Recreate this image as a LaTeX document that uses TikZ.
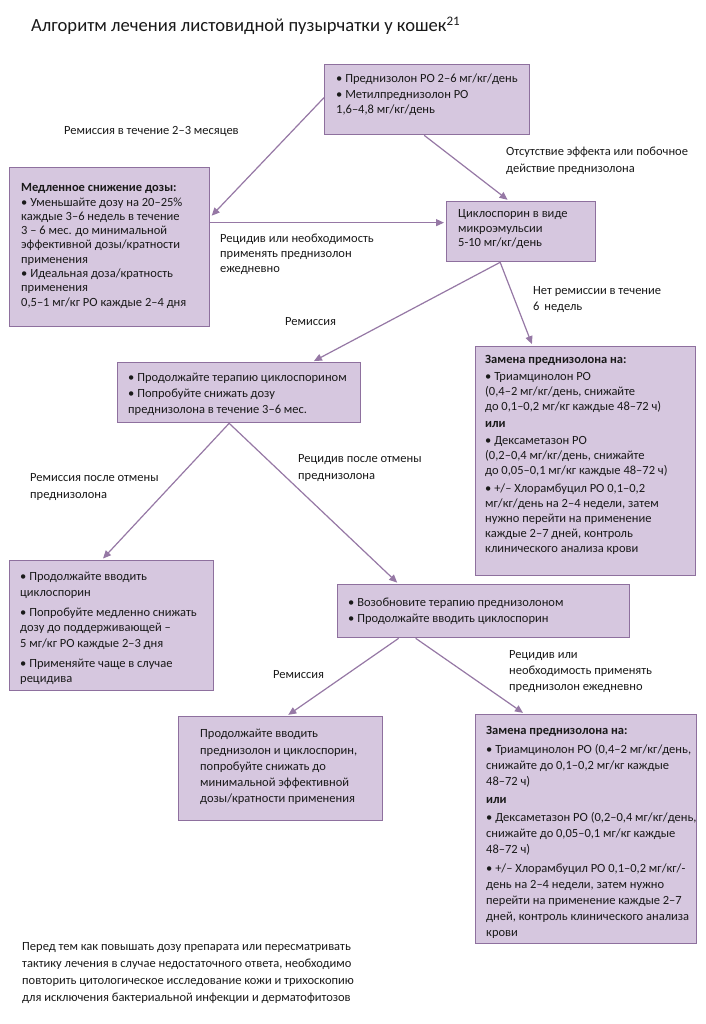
\documentclass[tikz,border=0pt]{standalone}
\usepackage{fontspec}
\setmainfont{Carlito}
\usetikzlibrary{arrows.meta}
\definecolor{boxfill}{RGB}{214,199,223}
\definecolor{boxline}{RGB}{142,112,158}
\definecolor{arr}{RGB}{150,120,165}
\definecolor{ink}{RGB}{25,25,25}
\newcommand\bodyfont[1]{\fontsize{12.5}{#1}\selectfont}
\newcommand\fr{\rule{0pt}{10pt}}
\tikzset{
  box/.style={draw=boxline, fill=boxfill, line width=1.3pt, inner sep=0pt, anchor=north west},
  txt/.style={anchor=north west, inner sep=0pt, align=left, text=ink},
  conn/.style={draw=arr, line width=1.2pt, -{Triangle[length=8pt,width=7pt]}, shorten >=2pt}
}
\begin{document}
\begin{tikzpicture}[x=1pt,y=-1pt]
\useasboundingbox[fill=white] (0,0) rectangle (705,1024);

% title
\node[anchor=base west, inner sep=0pt, text=ink, font=\fontsize{18.6}{20}\selectfont] (title) at (31,32)
  {Алгоритм лечения листовидной пузырчатки у кошек\textsuperscript{21}};

% boxes
\node[box, minimum width=205pt, minimum height=70pt] (A) at (324,64) {};
\node[box, minimum width=200pt, minimum height=159pt] (B) at (9,167) {};
\node[box, minimum width=149pt, minimum height=60pt] (C) at (446,201) {};
\node[box, minimum width=243pt, minimum height=60pt] (D) at (117,362) {};
\node[box, minimum width=220pt, minimum height=229pt] (E) at (475,346) {};
\node[box, minimum width=204pt, minimum height=130pt] (F) at (9,560) {};
\node[box, minimum width=292pt, minimum height=53pt] (G) at (337,584) {};
\node[box, minimum width=204pt, minimum height=104pt] (H) at (178,716) {};
\node[box, minimum width=221pt, minimum height=229pt] (I) at (475,714) {};

% box texts
\node[txt, font=\bodyfont{15.5}] (tA) at (336,72.5)
  {\fr• Преднизолон PO 2–6 мг/кг/день\\• Метилпреднизолон PO\\1,6–4,8 мг/кг/день};
\node[txt, font=\bodyfont{14.3}] (tB) at (21,181.5)
  {\fr\textbf{Медленное снижение дозы:}\\• Уменьшайте дозу на 20–25\%\\каждые 3–6 недель в течение\\3 – 6 мес. до минимальной\\эффективной дозы/кратности\\применения\\• Идеальная доза/кратность\\применения\\0,5–1 мг/кг PO каждые 2–4 дня};
\node[txt, font=\bodyfont{14.5}] (tC) at (458,207.5)
  {\fr Циклоспорин в виде\\микроэмульсии\\5-10 мг/кг/день};
\node[txt, font=\bodyfont{16}] (tD) at (128,371.5)
  {\fr• Продолжайте терапию циклоспорином\\• Попробуйте снижать дозу\\преднизолона в течение 3–6 мес.};
\node[txt, font=\bodyfont{15}] (tE) at (485,353.5)
  {\fr\textbf{Замена преднизолона на:}\\[2pt]• Триамцинолон PO\\(0,4–2 мг/кг/день, снижайте\\до 0,1–0,2 мг/кг каждые 48–72 ч)\\[2pt]\textbf{или}\\[2pt]• Дексаметазон PO\\(0,2–0,4 мг/кг/день, снижайте\\до 0,05–0,1 мг/кг каждые 48–72 ч)\\[3pt]• +/– Хлорамбуцил PO 0,1–0,2\\мг/кг/день на 2–4 недели, затем\\нужно перейти на применение\\каждые 2–7 дней, контроль\\клинического анализа крови};
\node[txt, font=\bodyfont{15.5}] (tF) at (20,570.5)
  {\fr• Продолжайте вводить\\циклоспорин\\[4.5pt]• Попробуйте медленно снижать\\дозу до поддерживающей –\\5 мг/кг PO каждые 2–3 дня\\[4.5pt]• Применяйте чаще в случае\\рецидива};
\node[txt, font=\bodyfont{16}] (tG) at (348,596.5)
  {\fr• Возобновите терапию преднизолоном\\• Продолжайте вводить циклоспорин};
\node[txt, font=\bodyfont{16.3}] (tH) at (200,727.5)
  {\fr Продолжайте вводить\\преднизолон и циклоспорин,\\попробуйте снижать до\\минимальной эффективной\\дозы/кратности применения};
\node[txt, font=\bodyfont{16}] (tI) at (486,724.5)
  {\fr\textbf{Замена преднизолона на:}\\[3pt]• Триамцинолон PO (0,4–2 мг/кг/день,\\снижайте до 0,1–0,2 мг/кг каждые\\48–72 ч)\\[2pt]\textbf{или}\\[2pt]• Дексаметазон PO (0,2–0,4 мг/кг/день,\\снижайте до 0,05–0,1 мг/кг каждые\\48–72 ч)\\[3pt]• +/– Хлорамбуцил PO 0,1–0,2 мг/кг/-\\день на 2–4 недели, затем нужно\\перейти на применение каждые 2–7\\дней, контроль клинического анализа\\крови};

% labels
\node[txt, font=\bodyfont{15}] (l1) at (64,124.5) {\fr Ремиссия в течение 2–3 месяцев};
\node[txt, font=\bodyfont{17}] (l2) at (506,145.5) {\fr Отсутствие эффекта или побочное\\действие преднизолона};
\node[txt, font=\bodyfont{15}] (l3) at (220,232.5) {\fr Рецидив или необходимость\\применять преднизолон\\ежедневно};
\node[txt, font=\bodyfont{15.5}] (l4) at (533,284.5) {\fr Нет ремиссии в течение\\6\, недель};
\node[txt, font=\bodyfont{15}] (l5) at (285,315.5) {\fr Ремиссия};
\node[txt, font=\bodyfont{17}] (l6) at (30,471.5) {\fr Ремиссия после отмены\\преднизолона};
\node[txt, font=\bodyfont{17}] (l7) at (298,452.5) {\fr Рецидив после отмены\\преднизолона};
\node[txt, font=\bodyfont{15}] (l8) at (273,668.5) {\fr Ремиссия};
\node[txt, font=\bodyfont{16}] (l9) at (509,648.5) {\fr Рецидив или\\необходимость применять\\преднизолон ежедневно};

% footnote
\node[txt, font=\bodyfont{17}] (foot) at (22,940.5)
  {\fr Перед тем как повышать дозу препарата или пересматривать\\тактику лечения в случае недостаточного ответа, необходимо\\повторить цитологическое исследование кожи и трихоскопию\\для исключения бактериальной инфекции и дерматофитозов};

% connectors
\draw[conn] ([yshift=2pt]A.west) -- ([yshift=30pt]B.east);
\draw[conn] ([xshift=-3pt]A.south) -- ([xshift=-12pt]C.north);
\draw[conn] ([yshift=24.5pt]B.east) -- ([yshift=9pt]C.west);
\draw[conn] ([xshift=-21pt]C.south) -- ([xshift=73pt]D.north);
\draw[conn] ([xshift=-21pt]C.south) -- ([xshift=-53pt]E.north);
\draw[conn] ([xshift=-10pt]D.south) -- ([xshift=-10pt]F.north);
\draw[conn] ([xshift=-10pt]D.south) -- ([xshift=-85pt]G.north);
\draw[conn] ([xshift=-85pt]G.south) -- ([xshift=6pt]H.north);
\draw[conn] ([xshift=-68pt]G.south) -- ([xshift=-61.5pt]I.north);
\end{tikzpicture}
\end{document}
